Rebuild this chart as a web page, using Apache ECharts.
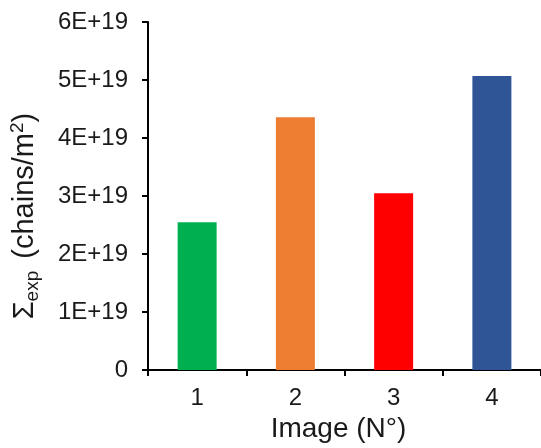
<!DOCTYPE html>
<html><head><meta charset="utf-8">
<script src="https://cdn.jsdelivr.net/npm/echarts@6/dist/echarts.min.js"></script>
<style>html,body{margin:0;padding:0;background:#fff}#c{width:541px;height:448px}</style>
</head><body><div id="c"></div>
<script>
const categories = ['1', '2', '3', '4'];
const values = [2.55e19, 4.36e19, 3.05e19, 5.07e19];
const barColors = ['#00B050', '#ED7D31', '#FF0000', '#2F5597'];
const yTicks = [0, 1e19, 2e19, 3e19, 4e19, 5e19, 6e19];
const xName = 'Image (N°)';

const chart = echarts.init(document.getElementById('c'), null, {renderer: 'canvas'});
const font = 'Liberation Sans, Arial, sans-serif';
const txt = '#1a1a1a';
chart.setOption({
  animation: false,
  grid: {left: 148, right: 0, top: 22, bottom: 76, containLabel: false},
  xAxis: {
    type: 'category', data: categories,
    axisLine: {lineStyle: {color: '#000', width: 2}},
    axisTick: {show: true, length: 6, lineStyle: {color: '#000', width: 2}},
    axisLabel: {fontSize: 24, fontFamily: font, color: txt, margin: 16},
    name: xName, nameLocation: 'middle', nameGap: 43,
    nameTextStyle: {fontSize: 28, fontFamily: font, color: txt, padding: [0, 12, 0, 0]}
  },
  yAxis: {
    type: 'value', min: yTicks[0], max: yTicks[yTicks.length - 1], interval: 1e19,
    splitLine: {show: false},
    axisLine: {show: true, lineStyle: {color: '#000', width: 2}},
    axisTick: {show: true, length: 6, lineStyle: {color: '#000', width: 2}},
    axisLabel: {fontSize: 24, fontFamily: font, color: txt, margin: 20,
      formatter: v => v === 0 ? '0' : (Math.round(v / 1e19) + 'E+19')},
    name: '{a|Σ}{b|exp}{a| (chains/m}{c|2}{a|)}',
    nameLocation: 'middle', nameGap: 106, nameRotate: 90,
    nameTextStyle: {
      fontFamily: font, color: txt, fontSize: 29, lineHeight: 34,
      padding: [0, 40, 0, 0],
      rich: {
        a: {fontSize: 29, fontFamily: font, color: txt, lineHeight: 34},
        b: {fontSize: 19, fontFamily: font, color: txt, verticalAlign: 'bottom', lineHeight: 22, padding: [0, 4, 0, 0]},
        c: {fontSize: 19, fontFamily: font, color: txt, verticalAlign: 'top', lineHeight: 22}
      }
    }
  },
  series: [{
    type: 'bar', barWidth: 39,
    data: values.map((v, i) => ({value: v, itemStyle: {color: barColors[i]}}))
  }]
});
</script></body></html>
